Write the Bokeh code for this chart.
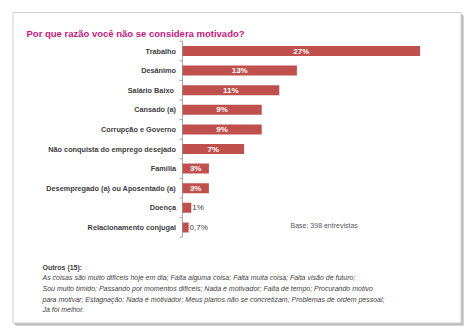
from bokeh.plotting import figure
from bokeh.models import Range1d
from bokeh.core.properties import value
from bokeh.embed import file_html
from bokeh.resources import INLINE

# ---- data ----
categories = ["Trabalho", "Desânimo", "Salário  Baixo", "Cansado (a)", "Corrupção e Governo",
              "Não conquista do emprego desejado", "Família", "Desempregado (a) ou Aposentado (a)",
              "Doença", "Relacionamento conjugal"]
values = [27, 13, 11, 9, 9, 7, 3, 3, 1, 0.7]
value_labels = ["27%", "13%", "11%", "9%", "9%", "7%", "3%", "3%", "1%", "0,7%"]
title_text = "Por que razão você não se considera motivado?"
base_text = "Base: 398 entrevistas"
outros_title = "Outros (15):"
outros_lines = [
    "As coisas são muito difíceis hoje em dia; Falta alguma coisa; Falta muita coisa; Falta visão de futuro;",
    "Sou muito tímido; Passando por momentos difíceis; Nada é motivador; Falta de tempo; Procurando motivo",
    "para motivar; Estagnação; Nada é motivador; Meus planos não se concretizam;  Problemas de ordem pessoal;",
    "Já foi melhor.",
]

W, H = 474, 336
X0 = 182.0      # pixel of 0 %
PX_PER = 8.8    # pixels per percent
Y0 = 50.5       # pixel of first row centre
ROW = 19.6      # pixels per row


def X(px):
    return (px - X0) / PX_PER


def Y(py):
    return (py - Y0) / ROW


p = figure(width=W, height=H, output_backend="svg", toolbar_location=None,
           x_range=Range1d(X(0), X(W)), y_range=Range1d(Y(H), Y(0)),
           min_border=0, outline_line_color=None)
p.axis.visible = False
p.grid.visible = False
p.background_fill_color = "white"
p.border_fill_color = "white"

FONT = value("Liberation Sans")

# card shadow and card
p.quad(left=[X(15)], right=[X(463.5)], top=[Y(15)], bottom=[Y(325.5)],
       fill_color="#d4d4d4", line_color=None)
p.quad(left=[X(14)], right=[X(462.5)], top=[Y(14)], bottom=[Y(324.5)],
       fill_color="#bdbdbd", line_color=None)
p.quad(left=[X(12.5)], right=[X(460.5)], top=[Y(12)], bottom=[Y(322.5)],
       fill_color="white", line_color="#cfcfcf", line_width=1)

# title
p.text(x=[X(26)], y=[Y(33)], text=[title_text], text_font=FONT, text_font_size="9.5px",
       text_font_style="bold", text_color="#c2187f", text_baseline="alphabetic")

rows = list(range(len(categories)))

# axis line and ticks (category boundaries)
p.segment(x0=[0], x1=[0], y0=[-0.5], y1=[len(categories) - 0.5], line_color="#a6a6a6", line_width=1)
bounds = [i - 0.5 for i in range(len(categories) + 1)]
p.segment(x0=[X(X0 - 3)] * len(bounds), x1=[0] * len(bounds), y0=bounds, y1=bounds,
          line_color="#a6a6a6", line_width=1)

# bars
p.hbar(y=rows, left=0, right=values, height=10 / ROW, fill_color="#c0504d", line_color=None)

# category labels
p.text(x=[X(175.5)] * len(rows), y=rows, text=categories, text_font=FONT, text_font_size="7.3px",
       text_font_style="bold", text_color="#404040", text_align="right", text_baseline="middle")

# value labels
inside = [i for i, v in enumerate(values) if v >= 3]
outside = [i for i, v in enumerate(values) if v < 3]
p.text(x=[values[i] / 2 for i in inside], y=[rows[i] for i in inside],
       text=[value_labels[i] for i in inside], text_font=FONT, text_font_size="8px",
       text_font_style="bold", text_color="white", text_align="center", text_baseline="middle")
p.text(x=[values[i] + 0.1 for i in outside], y=[rows[i] for i in outside],
       text=[value_labels[i] for i in outside], text_font=FONT, text_font_size="8px",
       text_color="#404040", text_align="left", text_baseline="middle")

# base note
p.text(x=[X(290)], y=[Y(225)], text=[base_text], text_font=FONT, text_font_size="7px",
       text_color="#595959", text_baseline="alphabetic")

# outros block
p.text(x=[X(42)], y=[Y(266.5)], text=[outros_title], text_font=FONT, text_font_size="7px",
       text_font_style="bold", text_color="#404040", text_baseline="alphabetic")
p.text(x=[X(42)] * len(outros_lines), y=[Y(277 + 10.8 * k) for k in range(len(outros_lines))],
       text=outros_lines, text_font=FONT, text_font_size="7px", text_font_style="italic",
       text_color="#404040", text_baseline="alphabetic")

open("out.html", "w").write(file_html(p, INLINE))
